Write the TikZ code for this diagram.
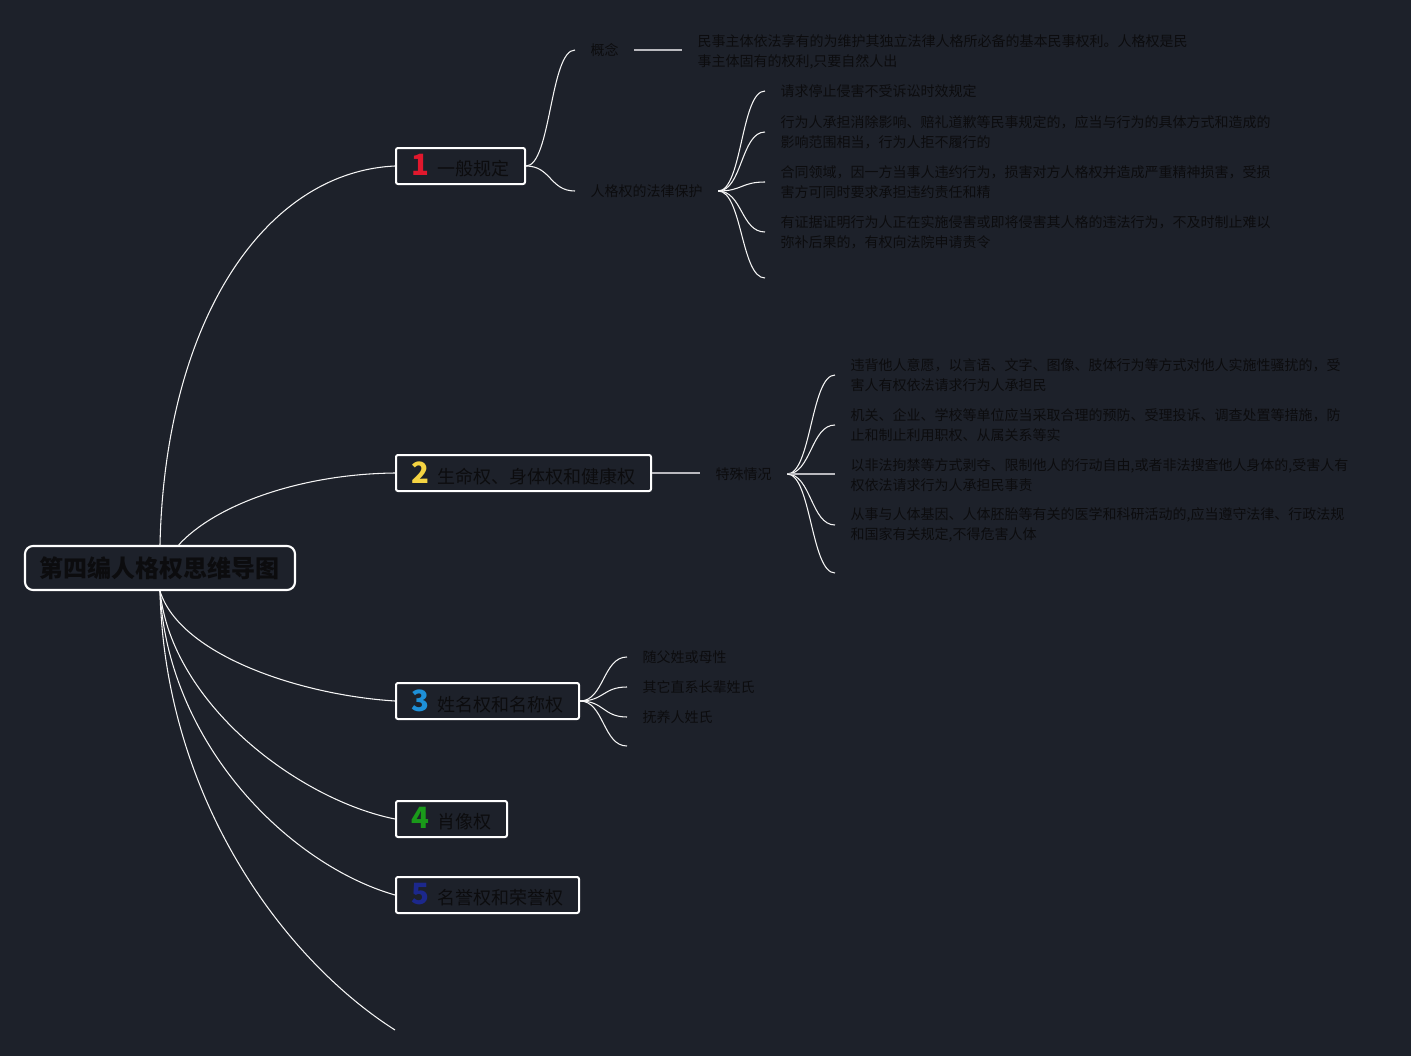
\documentclass[tikz,border=0pt]{standalone}
\usepackage{fontspec}
\newfontfamily\cjk{Noto Sans CJK SC}
\definecolor{bg}{RGB}{29,33,42}
\definecolor{ink}{RGB}{12,12,14}
\definecolor{lnk}{RGB}{245,245,245}
\definecolor{gline}{RGB}{185,185,190}
\definecolor{dred}{RGB}{225,24,45}
\definecolor{dyel}{RGB}{245,212,66}
\definecolor{dblu}{RGB}{30,144,216}
\definecolor{dgrn}{RGB}{26,154,26}
\definecolor{dnav}{RGB}{28,40,140}
\tikzset{
  x=0.75pt, y=-0.75pt,
  rootbox/.style={draw=white, line width=1.6pt, rounded corners=6pt, fill=bg, text=ink,
    font=\cjk\bfseries\fontsize{18}{20}\selectfont, minimum width=270*0.75pt, minimum height=44*0.75pt, inner sep=0pt},
  topicbox/.style={draw=white, line width=1.5pt, rounded corners=1.5pt, fill=bg, text=ink,
    font=\cjk\fontsize{13.5}{16}\selectfont, minimum height=36*0.75pt, inner sep=0pt, anchor=west},
  leaf/.style={text=ink, font=\cjk\fontsize{10.5}{15}\selectfont, align=left, anchor=west,
    inner xsep=11.5pt, inner ysep=1pt},
  conn/.style={draw=lnk, line width=0.8pt},
  gconn/.style={draw=gline, line width=1.5pt},
}
\newcommand{\dig}[2]{{\color{#1}\bfseries\fontsize{22}{22}\selectfont #2}\hspace{6pt}}
\begin{document}
\begin{tikzpicture}
\fill[bg] (0,0) rectangle (1411,1056);
\useasboundingbox (0,0) rectangle (1411,1056);

% root and main topics
\node[rootbox] (root) at (160,568) {第四编人格权思维导图};
\node[topicbox, minimum width=129*0.75pt] (n1) at (395,166) {\dig{dred}{1}一般规定};
\node[topicbox, minimum width=255*0.75pt] (n2) at (395,473) {\dig{dyel}{2}生命权、身体权和健康权};
\node[topicbox, minimum width=183*0.75pt] (n3) at (395,701) {\dig{dblu}{3}姓名权和名称权};
\node[topicbox, minimum width=111*0.75pt] (n4) at (395,819) {\dig{dgrn}{4}肖像权};
\node[topicbox, minimum width=183*0.75pt] (n5) at (395,895) {\dig{dnav}{5}名誉权和荣誉权};
\coordinate (n6) at (395,1030);

% root connectors
\draw[conn] (root.north) .. controls (165,320) and (265,172) .. (n1.west);
\draw[conn] ([xshift=14pt]root.north) .. controls (215,505) and (300,474) .. (n2.west);
\draw[conn] (root.south) .. controls (180,655) and (300,695) .. (n3.west);
\draw[conn] (root.south) .. controls (172,705) and (300,800) .. (n4.west);
\draw[conn] (root.south) .. controls (168,745) and (290,865) .. (n5.west);
\draw[conn] (root.south) .. controls (165,800) and (285,960) .. (n6);

% topic 1
\node[leaf] (gn) at (575,50) {概念};
\node[leaf] (gnd) at (682,52) {民事主体依法享有的为维护其独立法律人格所必备的基本民事权利。人格权是民\\事主体固有的权利,只要自然人出};
\node[leaf] (law) at (575,191) {人格权的法律保护};
\draw[conn] (n1.east) .. controls +(25,0) and +(-25,0) .. (gn.west);
\draw[conn] (n1.east) .. controls +(25,0) and +(-25,0) .. (law.west);
\draw[gconn] (gn.east) -- (gn.east -| gnd.west);

\node[leaf] (l1) at (765,91) {请求停止侵害不受诉讼时效规定};
\node[leaf] (l2) at (765,132) {行为人承担消除影响、赔礼道歉等民事规定的，应当与行为的具体方式和造成的\\影响范围相当，行为人拒不履行的};
\node[leaf] (l3) at (765,182) {合同领域，因一方当事人违约行为，损害对方人格权并造成严重精神损害，受损\\害方可同时要求承担违约责任和精};
\node[leaf] (l4) at (765,232) {有证据证明行为人正在实施侵害或即将侵害其人格的违法行为，不及时制止难以\\弥补后果的，有权向法院申请责令};
\coordinate (l5) at (765,278);
\foreach \t in {l1,l2,l3,l4}{
  \draw[conn] (law.east) .. controls +(24,0) and +(-24,0) .. (\t.west);
}
\draw[conn] (law.east) .. controls +(24,0) and +(-24,0) .. (l5);

% topic 2
\node[leaf] (sp) at (700,474) {特殊情况};
\draw[gconn] (n2.east) -- (n2.east -| sp.west);
\node[leaf] (s1) at (835,375) {违背他人意愿，以言语、文字、图像、肢体行为等方式对他人实施性骚扰的，受\\害人有权依法请求行为人承担民};
\node[leaf] (s2) at (835,425) {机关、企业、学校等单位应当采取合理的预防、受理投诉、调查处置等措施，防\\止和制止利用职权、从属关系等实};
\node[leaf] (s3) at (835,475) {以非法拘禁等方式剥夺、限制他人的行动自由,或者非法搜查他人身体的,受害人有\\权依法请求行为人承担民事责};
\node[leaf] (s4) at (835,525) {从事与人体基因、人体胚胎等有关的医学和科研活动的,应当遵守法律、行政法规\\和国家有关规定,不得危害人体};
\coordinate (s5) at (835,573);
\foreach \t in {s1,s2,s4}{
  \draw[conn] (sp.east) .. controls +(24,0) and +(-24,0) .. (\t.west);
}
\draw[gconn] (sp.east) -- (sp.east -| s3.west);
\draw[conn] (sp.east) .. controls +(24,0) and +(-24,0) .. (s5);

% topic 3
\node[leaf] (m1) at (627,657) {随父姓或母性};
\node[leaf] (m2) at (627,687) {其它直系长辈姓氏};
\node[leaf] (m3) at (627,717) {抚养人姓氏};
\coordinate (m4) at (627,746);
\foreach \t in {m1,m2,m3}{
  \draw[conn] (n3.east) .. controls +(24,0) and +(-24,0) .. (\t.west);
}
\draw[conn] (n3.east) .. controls +(24,0) and +(-24,0) .. (m4);
\end{tikzpicture}
\end{document}
